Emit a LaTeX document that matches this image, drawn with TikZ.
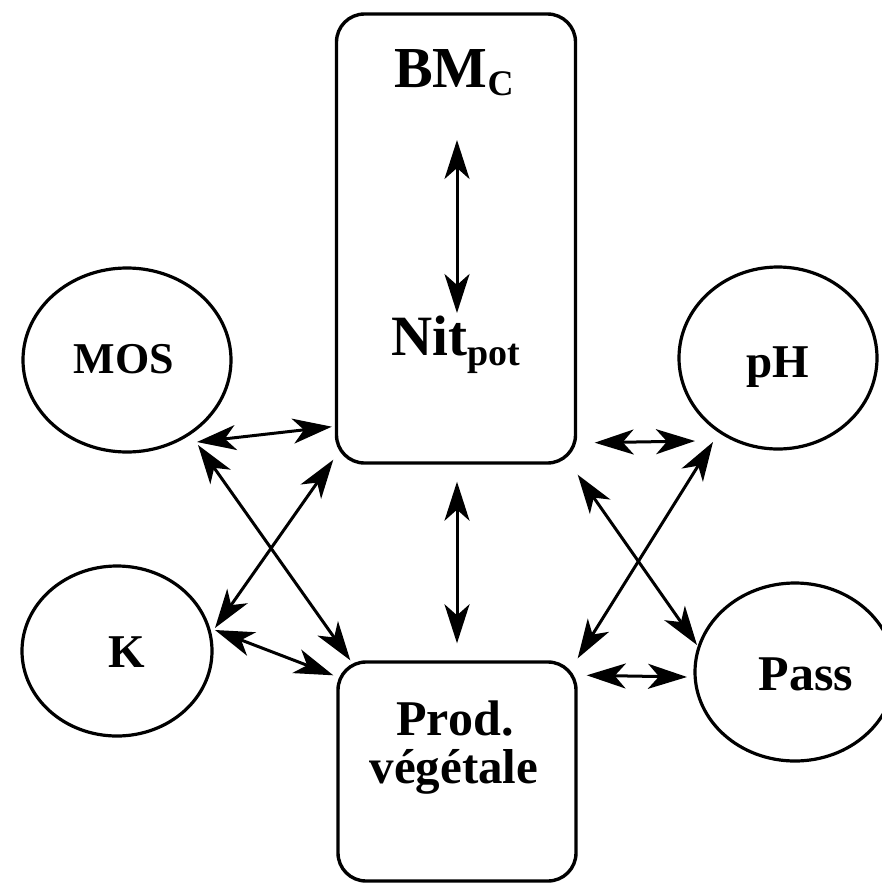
\documentclass[tikz,border=0pt]{standalone}
\usepackage{fontspec}
\setmainfont{Liberation Serif}
\usetikzlibrary{shapes.geometric,arrows.meta,calc}
\tikzset{
  boxnode/.style={draw, rounded corners=28pt, line width=3.4pt, inner sep=0pt},
  ellnode/.style={draw, ellipse, line width=3.2pt, inner sep=0pt},
  lbl/.style={inner sep=0pt, anchor=base, font=\bfseries\fontsize{46}{50}\selectfont},
  arr/.style={line width=3pt,
    {Stealth[length=39pt,width=25pt,inset=11pt]}-{Stealth[length=39pt,width=25pt,inset=11pt]}}
}
\begin{document}
\begin{tikzpicture}[x=1pt,y=-1pt]
\useasboundingbox (0,0) rectangle (882,883);
% boxes
\node[boxnode, minimum width=239pt, minimum height=449pt] (top) at (456,238.5) {};
\node[boxnode, minimum width=238pt, minimum height=219pt] (bot) at (457,771.5) {};
% ellipses
\node[ellnode, minimum width=208pt, minimum height=184pt] (mos) at (127,360) {};
\node[ellnode, minimum width=198pt, minimum height=182pt] (ph) at (778,358) {};
\node[ellnode, minimum width=190pt, minimum height=170pt] (k) at (117,651) {};
\node[ellnode, minimum width=200pt, minimum height=178pt] (pass) at (795,672) {};
% labels
\node[lbl, font=\bfseries\fontsize{58}{60}\selectfont] (bm) at (454,88)
  {BM\raisebox{-7pt}{\fontsize{36}{36}\selectfont C}};
\node[lbl, font=\bfseries\fontsize{57}{60}\selectfont] (nit) at (456,355)
  {Nit\raisebox{-10pt}{\fontsize{38}{38}\selectfont pot}};
\node[lbl, font=\bfseries\fontsize{44}{50}\selectfont] (mostxt) at (124,373) {MOS};
\node[lbl, font=\bfseries\fontsize{47}{50}\selectfont] (phtxt) at (778,377) {pH};
\node[lbl, font=\bfseries\fontsize{47}{50}\selectfont] (ktxt) at (127,667) {K};
\node[lbl, font=\bfseries\fontsize{50}{50}\selectfont] (passtxt) at (806,690) {Pass};
\node[lbl, font=\bfseries\fontsize{50}{50}\selectfont] (prod1) at (455,735) {Prod.};
\node[lbl, font=\bfseries\fontsize{49}{50}\selectfont] (prod2) at (454,783) {végétale};
% arrows
\draw[arr] ($(bm.base)+(3,52)$) -- ($(nit.base)+(1,-42)$);
\draw[arr] ($(mos.center)+(70,82)$) -- ($(top.south west)+(-3,-38)$);
\draw[arr] ($(mos.center)+(71,85)$) -- ($(bot.north west)+(14,0)$);
\draw[arr] ($(k.center)+(98,-23)$) -- ($(top.south west)+(-1.5,-5)$);
\draw[arr] ($(k.center)+(98,-21)$) -- ($(bot.north west)+(-3,15)$);
\draw[arr] ($(top.south)+(1,17)$) -- ($(bot.north)+(0,-17)$);
\draw[arr] ($(top.south east)+(17.5,-22)$) -- ($(ph.center)+(-83,83)$);
\draw[arr] ($(top.south east)+(0.5,10)$) -- ($(pass.center)+(-98,-27)$);
\draw[arr] ($(ph.center)+(-65,84)$) -- ($(bot.north east)+(0,-2)$);
\draw[arr] ($(bot.north east)+(9,15)$) -- ($(pass.center)+(-108,5)$);
\end{tikzpicture}
\end{document}
